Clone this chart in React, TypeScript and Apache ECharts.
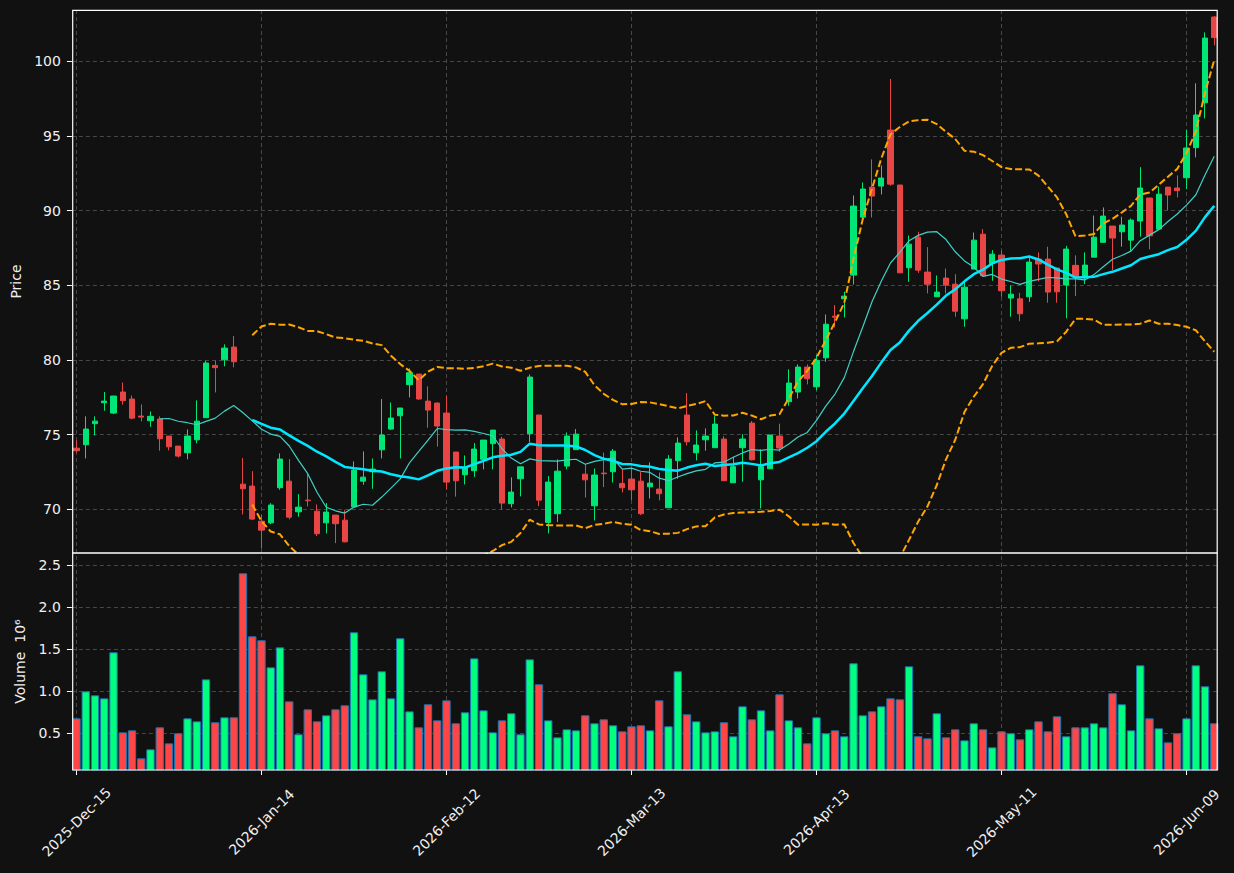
import React, { useEffect, useRef } from "react";
import * as echarts from "echarts";

// ---------- data ----------
const START_DATE = "2025-12-15";
const HOLIDAYS = ["2025-12-25", "2026-01-01", "2026-01-19", "2026-02-16", "2026-04-03", "2026-05-25"];
const BAR_COUNT = 124;
const MONTHS = ["Jan", "Feb", "Mar", "Apr", "May", "Jun", "Jul", "Aug", "Sep", "Oct", "Nov", "Dec"];

const open = [
  74.10, 74.33, 75.74, 77.14, 76.45, 77.86, 77.39, 76.25, 75.94, 76.05,
  74.91, 74.24, 73.79, 74.66, 76.14, 79.64, 80.02, 80.87, 71.69, 71.56,
  69.21, 69.10, 71.45, 71.89, 69.84, 70.62, 69.88, 69.10, 69.62, 69.28,
  70.17, 71.89, 72.52, 73.99, 75.38, 76.27, 78.35, 79.06, 77.25, 77.12,
  76.45, 73.84, 72.32, 72.59, 73.35, 74.40, 74.71, 70.38, 72.05, 75.07,
  76.32, 69.13, 69.71, 72.90, 74.00, 72.36, 70.24, 72.43, 72.52, 71.74,
  72.03, 71.89, 71.51, 71.36, 70.11, 73.26, 76.32, 73.79, 74.66, 74.13,
  74.71, 71.78, 74.13, 75.78, 71.98, 72.72, 74.91, 77.21, 77.86, 79.53,
  78.21, 80.15, 82.94, 84.10, 85.69, 89.57, 91.58, 91.65, 95.40, 91.72,
  86.18, 88.23, 85.89, 84.24, 85.49, 85.08, 82.76, 86.09, 88.43, 86.47,
  87.03, 84.15, 84.10, 84.24, 86.76, 86.76, 86.16, 85.02, 86.34, 85.58,
  86.89, 87.88, 88.97, 88.59, 88.03, 89.31, 90.85, 88.77, 91.58, 91.52,
  92.21, 94.22, 97.23, 102.97,
];
const high = [
  74.64, 76.23, 76.23, 77.86, 77.59, 78.50, 77.63, 77.03, 76.56, 76.23,
  74.91, 74.24, 75.36, 77.30, 79.96, 79.96, 81.05, 81.61, 73.44, 72.56,
  69.62, 70.42, 73.75, 73.37, 71.02, 72.41, 70.33, 70.42, 69.62, 69.95,
  73.21, 73.88, 73.41, 77.39, 77.16, 76.79, 79.44, 79.06, 78.24, 77.16,
  77.61, 73.84, 73.61, 74.44, 74.64, 75.31, 74.86, 72.14, 72.85, 79.04,
  76.32, 72.23, 73.35, 75.15, 75.38, 73.03, 72.74, 73.81, 74.04, 72.68,
  72.74, 72.50, 73.15, 72.47, 73.64, 74.82, 77.79, 75.29, 75.42, 76.25,
  74.89, 73.52, 75.04, 75.91, 74.02, 74.98, 75.74, 79.38, 79.71, 79.71,
  80.34, 83.05, 83.68, 84.57, 91.02, 91.89, 93.44, 93.03, 98.82, 91.72,
  88.34, 88.59, 87.56, 85.66, 86.13, 85.75, 85.24, 88.54, 88.77, 87.36,
  87.34, 85.00, 84.50, 86.92, 87.21, 87.59, 86.16, 87.65, 87.01, 87.21,
  89.68, 90.22, 88.97, 89.60, 89.48, 92.92, 90.85, 91.61, 91.58, 92.36,
  95.40, 98.53, 101.94, 103.04,
];
const low = [
  73.79, 73.41, 74.95, 76.61, 76.38, 77.01, 76.03, 75.89, 75.53, 73.93,
  73.95, 73.48, 73.35, 74.42, 76.14, 77.83, 79.58, 79.51, 69.66, 69.28,
  67.38, 69.01, 71.31, 69.33, 69.51, 70.20, 68.21, 68.39, 67.74, 67.79,
  70.11, 71.65, 71.38, 73.41, 75.31, 73.41, 77.50, 77.34, 75.47, 74.20,
  71.34, 70.85, 71.67, 72.18, 72.68, 72.68, 70.00, 70.13, 70.87, 74.51,
  70.22, 68.39, 69.15, 72.68, 74.00, 70.80, 69.26, 71.49, 71.80, 71.14,
  70.62, 69.62, 70.73, 70.60, 70.11, 72.05, 74.28, 73.28, 73.93, 74.13,
  71.92, 71.78, 71.85, 73.28, 70.06, 72.72, 73.86, 76.94, 77.43, 78.37,
  77.97, 79.88, 82.18, 82.85, 85.06, 89.33, 89.55, 91.09, 91.67, 85.84,
  85.24, 85.84, 84.46, 84.24, 84.46, 82.90, 82.23, 86.09, 85.58, 85.31,
  84.24, 82.90, 82.60, 83.90, 85.27, 83.84, 83.84, 82.80, 84.28, 85.09,
  86.89, 87.88, 86.02, 87.59, 87.32, 88.26, 87.41, 88.77, 90.04, 90.89,
  91.45, 93.57, 96.18, 101.07,
];
const close = [
  73.93, 75.38, 75.91, 77.25, 77.59, 77.28, 76.11, 76.18, 76.23, 74.73,
  74.19, 73.57, 74.91, 75.91, 79.80, 79.49, 80.80, 79.89, 71.38, 69.35,
  68.61, 70.29, 73.37, 69.48, 70.15, 70.58, 68.37, 69.82, 69.04, 67.83,
  72.63, 72.16, 72.70, 74.98, 76.12, 76.79, 79.15, 77.39, 76.65, 75.58,
  71.83, 71.92, 72.81, 74.04, 74.64, 75.31, 70.42, 71.16, 72.85, 78.86,
  70.62, 71.83, 72.56, 74.91, 75.04, 71.98, 72.30, 72.39, 73.90, 71.45,
  71.31, 69.71, 71.76, 71.05, 73.37, 74.44, 74.53, 74.31, 74.91, 75.71,
  71.92, 72.86, 74.71, 73.32, 72.86, 74.98, 74.11, 78.46, 79.53, 78.75,
  79.98, 82.40, 82.87, 84.28, 90.31, 91.45, 90.98, 92.19, 91.78, 85.84,
  87.76, 86.02, 85.08, 84.55, 85.02, 83.27, 84.88, 88.03, 85.64, 87.09,
  84.64, 84.41, 83.10, 86.56, 86.43, 84.55, 84.57, 87.43, 85.58, 86.36,
  88.23, 89.64, 88.17, 89.04, 89.37, 91.52, 88.32, 91.11, 91.05, 91.34,
  94.20, 96.41, 101.56, 101.59,
];
// volume in millions (axis unit 10^6)
const volume = [
  0.678, 0.999, 0.952, 0.916, 1.464, 0.511, 0.535, 0.202, 0.309, 0.571,
  0.380, 0.500, 0.678, 0.642, 1.142, 0.631, 0.690, 0.690, 2.404, 1.654,
  1.607, 1.285, 1.523, 0.880, 0.488, 0.785, 0.642, 0.714, 0.785, 0.833,
  1.702, 1.202, 0.904, 1.238, 0.916, 1.631, 0.761, 0.571, 0.845, 0.654,
  0.892, 0.619, 0.750, 1.392, 0.773, 0.511, 0.654, 0.738, 0.488, 1.380,
  1.083, 0.654, 0.452, 0.547, 0.535, 0.714, 0.619, 0.666, 0.595, 0.523,
  0.583, 0.595, 0.535, 0.892, 0.583, 1.238, 0.726, 0.642, 0.511, 0.523,
  0.631, 0.464, 0.821, 0.666, 0.773, 0.535, 0.964, 0.654, 0.571, 0.380,
  0.690, 0.500, 0.535, 0.464, 1.333, 0.714, 0.761, 0.821, 0.916, 0.904,
  1.297, 0.464, 0.440, 0.738, 0.452, 0.547, 0.416, 0.619, 0.547, 0.333,
  0.523, 0.500, 0.428, 0.547, 0.642, 0.523, 0.702, 0.464, 0.571, 0.571,
  0.619, 0.571, 0.976, 0.845, 0.535, 1.309, 0.678, 0.559, 0.392, 0.500,
  0.678, 1.309, 1.059, 0.619,
];

const priceTicks = [70, 75, 80, 85, 90, 95, 100];
const volumeTicks = [0.5, 1.0, 1.5, 2.0, 2.5];
const DATE_TICK_EVERY = 20;
const MA_SHORT = 10;
const MA_LONG = 20;
const BB_WIDTH = 2;

// ---------- helpers ----------
function tradingDays(start: string, n: number, holidays: string[]): string[] {
  const out: string[] = [];
  const d = new Date(start + "T00:00:00Z");
  while (out.length < n) {
    const dow = d.getUTCDay();
    const iso = d.toISOString().slice(0, 10);
    if (dow !== 0 && dow !== 6 && !holidays.includes(iso)) out.push(iso);
    d.setUTCDate(d.getUTCDate() + 1);
  }
  return out;
}
function fmtDate(iso: string): string {
  const [y, m, dd] = iso.split("-");
  return `${y}-${MONTHS[Number(m) - 1]}-${dd}`;
}
function rollingMean(arr: number[], w: number): (number | string)[] {
  return arr.map((_, i) => {
    if (i < w - 1) return "-";
    const s = arr.slice(i - w + 1, i + 1);
    return s.reduce((a, b) => a + b, 0) / w;
  });
}
function rollingStd(arr: number[], w: number): (number | null)[] {
  return arr.map((_, i) => {
    if (i < w - 1) return null;
    const s = arr.slice(i - w + 1, i + 1);
    const m = s.reduce((a, b) => a + b, 0) / w;
    const v = s.reduce((a, b) => a + (b - m) * (b - m), 0) / (w - 1);
    return Math.sqrt(v);
  });
}

const dates = tradingDays(START_DATE, BAR_COUNT, HOLIDAYS);

const TEXT = "#f0f0f0";
const GRIDLINE = "#474747";
const UP = "#00e676";
const DOWN = "#e84545";
const VOL_UP = "#00ff7f";
const VOL_DOWN = "#ff4545";
const FONT = "DejaVu Sans";

export default function App() {
  const ref = useRef<HTMLDivElement>(null);

  useEffect(() => {
    if (!ref.current) return;
    const chart = echarts.init(ref.current, undefined, { renderer: "svg" });

    const ma10 = rollingMean(close, MA_SHORT);
    const ma20 = rollingMean(close, MA_LONG);
    const sd20 = rollingStd(close, MA_LONG);
    const upper = ma20.map((m, i) => (typeof m === "number" && sd20[i] != null ? m + BB_WIDTH * (sd20[i] as number) : "-"));
    const lower = ma20.map((m, i) => (typeof m === "number" && sd20[i] != null ? m - BB_WIDTH * (sd20[i] as number) : "-"));

    const tickDates = dates.filter((_, i) => i % DATE_TICK_EVERY === 0);
    const vGrid = {
      silent: true,
      z: 1,
      symbol: ["none", "none"],
      label: { show: false },
      emphasis: { disabled: true },
      lineStyle: { color: GRIDLINE, type: [4, 3], width: 1 },
      data: tickDates.map((d) => ({ xAxis: d })),
    };

    const GL = 71.875;
    const GW = 1147;

    chart.setOption({
      animation: false,
      backgroundColor: "#111111",
      textStyle: { fontFamily: FONT },
      grid: [
        { left: GL, top: 10, width: GW, height: 543 },
        { left: GL, top: 553, width: GW, height: 217 },
      ],
      xAxis: [
        {
          type: "category",
          gridIndex: 0,
          data: dates,
          boundaryGap: true,
          axisLine: { show: false },
          axisTick: { show: false },
          axisLabel: { show: false },
          splitLine: { show: false },
        },
        {
          type: "category",
          gridIndex: 1,
          data: dates,
          boundaryGap: true,
          axisLine: { show: false },
          axisTick: {
            show: true,
            alignWithLabel: true,
            interval: DATE_TICK_EVERY - 1,
            length: 5,
            lineStyle: { color: "#ffffff", width: 1 },
          },
          axisLabel: {
            interval: DATE_TICK_EVERY - 1,
            rotate: 45,
            formatter: (v: string) => fmtDate(v),
            color: TEXT,
            fontSize: 14,
            fontFamily: FONT,
            margin: 52,
            align: "center",
            verticalAlign: "middle",
          },
          splitLine: { show: false },
        },
      ],
      yAxis: [
        {
          type: "value",
          gridIndex: 0,
          min: 67.08,
          max: 103.44,
          splitNumber: 7,
          name: "Price",
          nameLocation: "middle",
          nameRotate: 90,
          nameGap: 47,
          nameTextStyle: { color: TEXT, fontSize: 14, fontFamily: FONT },
          axisLine: { show: false },
          axisTick: { show: true, length: 5, lineStyle: { color: "#ffffff" }, customValues: priceTicks },
          axisLabel: {
            color: TEXT,
            fontSize: 14,
            fontFamily: FONT,
            margin: 11,
            customValues: priceTicks,
            formatter: (v: number) => String(Math.round(v)),
          },
          splitLine: { show: true, lineStyle: { color: GRIDLINE, type: [4, 3], width: 1 } },
        },
        {
          type: "value",
          gridIndex: 1,
          min: 0.063,
          max: 2.646,
          splitNumber: 5,
          name: "Volume  10\u2076",
          nameLocation: "middle",
          nameRotate: 90,
          nameGap: 45,
          nameTextStyle: { color: TEXT, fontSize: 14, fontFamily: FONT },
          axisLine: { show: false },
          axisTick: { show: true, length: 5, lineStyle: { color: "#ffffff" }, customValues: volumeTicks },
          axisLabel: {
            color: TEXT,
            fontSize: 14,
            fontFamily: FONT,
            margin: 11,
            customValues: volumeTicks,
            formatter: (v: number) => v.toFixed(1),
          },
          splitLine: { show: true, lineStyle: { color: GRIDLINE, type: [4, 3], width: 1 } },
        },
      ],
      series: [
        {
          type: "candlestick",
          name: "OHLC",
          xAxisIndex: 0,
          yAxisIndex: 0,
          barWidth: "60%",
          z: 3,
          data: open.map((o, i) => [o, close[i], low[i], high[i]]),
          itemStyle: {
            color: UP,
            color0: DOWN,
            borderColor: UP,
            borderColor0: DOWN,
            borderWidth: 1,
          },
          markLine: vGrid,
        },
        {
          type: "line",
          name: "MA10",
          xAxisIndex: 0,
          yAxisIndex: 0,
          data: ma10,
          showSymbol: false,
          z: 4,
          lineStyle: { color: "#3fd1c6", width: 1.2 },
        },
        {
          type: "line",
          name: "MA20",
          xAxisIndex: 0,
          yAxisIndex: 0,
          data: ma20,
          showSymbol: false,
          z: 5,
          lineStyle: { color: "#00e8ff", width: 2.5 },
        },
        {
          type: "line",
          name: "BB upper",
          xAxisIndex: 0,
          yAxisIndex: 0,
          data: upper,
          showSymbol: false,
          z: 5,
          lineStyle: { color: "#ffa500", width: 2, type: [7, 3] },
        },
        {
          type: "line",
          name: "BB lower",
          xAxisIndex: 0,
          yAxisIndex: 0,
          data: lower,
          showSymbol: false,
          z: 5,
          lineStyle: { color: "#ffa500", width: 2, type: [7, 3] },
        },
        {
          type: "bar",
          name: "Volume",
          xAxisIndex: 1,
          yAxisIndex: 1,
          barWidth: "90%",
          clip: true,
          z: 3,
          data: volume.map((v, i) => ({
            value: v,
            itemStyle: { color: close[i] >= open[i] ? VOL_UP : VOL_DOWN },
          })),
          itemStyle: { borderColor: "#1f77b4", borderWidth: 1 },
          markLine: vGrid,
        },
      ],
      graphic: [
        {
          type: "rect",
          silent: true,
          z: 100,
          shape: { x: 72.7, y: 10.3, width: 1144.5, height: 542.7 },
          style: { fill: "none", stroke: "#ffffff", lineWidth: 1.2 },
        },
        {
          type: "rect",
          silent: true,
          z: 100,
          shape: { x: 72.7, y: 553, width: 1144.5, height: 217 },
          style: { fill: "none", stroke: "#ffffff", lineWidth: 1.2 },
        },
      ],
    });

    return () => chart.dispose();
  }, []);

  return (
    <div
      ref={ref}
      style={{ position: "fixed", left: 0, top: 0, width: 1234, height: 873, background: "#111111" }}
    />
  );
}
